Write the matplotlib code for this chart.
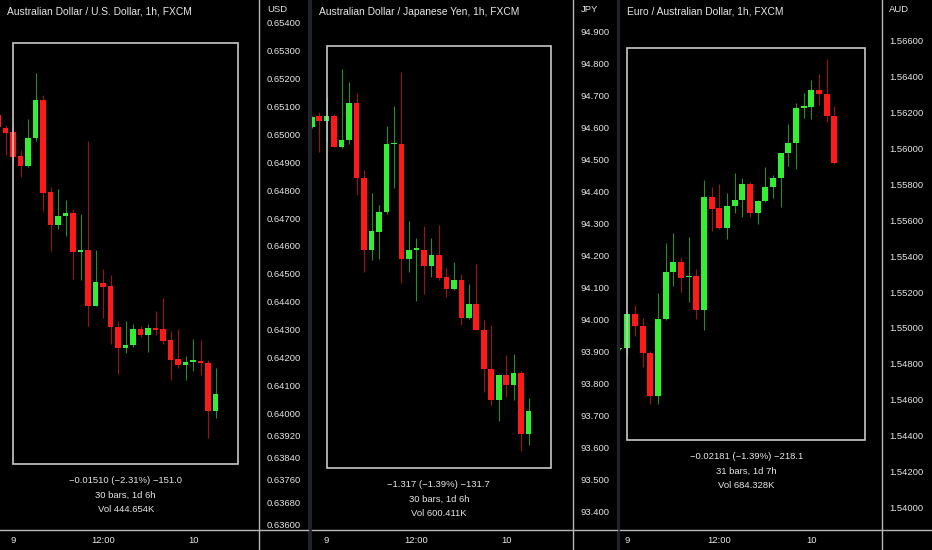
import numpy as np
import matplotlib
matplotlib.use('Agg')
import matplotlib.pyplot as plt
from matplotlib.lines import Line2D
from matplotlib.patches import Rectangle

plt.rcParams['font.family'] = ['Liberation Sans', 'DejaVu Sans']

# ---- data: hourly candles, open / high / low / close ----
audusd_open = [0.65068, 0.65024, 0.65007, 0.64922, 0.64885, 0.64987, 0.65122, 0.64793, 0.64676, 0.64706,
               0.64718, 0.64578, 0.64587, 0.64384, 0.64468, 0.64456, 0.64309, 0.64233, 0.64243, 0.64303,
               0.64281, 0.64306, 0.64300, 0.64261, 0.64193, 0.64171, 0.64185, 0.64188, 0.64180, 0.64006]
audusd_high = [0.65086, 0.65035, 0.65035, 0.64943, 0.65054, 0.65222, 0.65143, 0.64811, 0.64805, 0.64763,
               0.64733, 0.64715, 0.64975, 0.64587, 0.64516, 0.64494, 0.64329, 0.64329, 0.64321, 0.64312,
               0.64321, 0.64368, 0.64414, 0.64293, 0.64303, 0.64205, 0.64267, 0.64261, 0.64189, 0.64161]
audusd_low = [0.65021, 0.64925, 0.64895, 0.64847, 0.64883, 0.64975, 0.64727, 0.64580, 0.64659, 0.64635,
              0.64482, 0.64476, 0.64312, 0.64384, 0.64341, 0.64249, 0.64141, 0.64217, 0.64237, 0.64273,
              0.64221, 0.64279, 0.64249, 0.64117, 0.64161, 0.64117, 0.64150, 0.64138, 0.63910, 0.63982]
audusd_close = [0.65027, 0.65005, 0.64919, 0.64885, 0.64988, 0.65122, 0.64791, 0.64676, 0.64706, 0.64718,
                0.64578, 0.64587, 0.64384, 0.64470, 0.64452, 0.64309, 0.64233, 0.64243, 0.64303, 0.64281,
                0.64306, 0.64297, 0.64257, 0.64189, 0.64171, 0.64185, 0.64188, 0.64179, 0.64006, 0.64069]

audjpy_open = [94.602, 94.635, 94.620, 94.635, 94.540, 94.560, 94.677, 94.444, 94.217, 94.274,
               94.337, 94.548, 94.550, 94.189, 94.219, 94.219, 94.168, 94.201, 94.133, 94.095,
               94.123, 94.005, 94.048, 93.969, 93.847, 93.750, 93.826, 93.797, 93.833, 93.642]
audjpy_high = [94.636, 94.649, 94.694, 94.644, 94.784, 94.743, 94.709, 94.467, 94.396, 94.357,
               94.604, 94.667, 94.774, 94.307, 94.255, 94.293, 94.255, 94.295, 94.163, 94.180,
               94.144, 94.113, 94.173, 93.998, 93.984, 93.831, 93.889, 93.892, 93.840, 93.756]
audjpy_low = [94.600, 94.524, 94.555, 94.540, 94.538, 94.548, 94.389, 94.149, 94.188, 94.190,
              94.329, 94.413, 94.116, 94.149, 94.058, 94.081, 94.133, 94.125, 94.071, 94.094,
              93.982, 94.003, 93.969, 93.774, 93.735, 93.682, 93.758, 93.750, 93.590, 93.610]
audjpy_close = [94.633, 94.620, 94.635, 94.540, 94.560, 94.677, 94.444, 94.217, 94.276, 94.337,
                94.548, 94.550, 94.189, 94.219, 94.220, 94.168, 94.201, 94.130, 94.095, 94.123,
                94.005, 94.048, 93.969, 93.847, 93.750, 93.826, 93.797, 93.833, 93.642, 93.714]

euraud_open = [1.54882, 1.54888, 1.55079, 1.55012, 1.54860, 1.54619, 1.55049, 1.55309, 1.55370, 1.55283,
               1.55287, 1.55098, 1.55728, 1.55667, 1.55556, 1.55682, 1.55714, 1.55801, 1.55643, 1.55710,
               1.55784, 1.55834, 1.55973, 1.56033, 1.56227, 1.56233, 1.56326, 1.56302, 1.56183]
euraud_high = [1.54890, 1.55083, 1.55129, 1.55055, 1.54869, 1.55194, 1.55472, 1.55528, 1.55398, 1.55506,
               1.55328, 1.55825, 1.55784, 1.55803, 1.55751, 1.55862, 1.55834, 1.55816, 1.55714, 1.55895,
               1.55853, 1.55977, 1.56137, 1.56255, 1.56311, 1.56385, 1.56415, 1.56497, 1.56237]
euraud_low = [1.54878, 1.54851, 1.54953, 1.54782, 1.54578, 1.54573, 1.55042, 1.55231, 1.55198, 1.55142,
              1.55049, 1.54990, 1.55543, 1.55550, 1.55496, 1.55639, 1.55621, 1.55621, 1.55580, 1.55704,
              1.55727, 1.55673, 1.55903, 1.55884, 1.56172, 1.56163, 1.56242, 1.56150, 1.55914]
euraud_close = [1.54886, 1.55079, 1.55009, 1.54860, 1.54619, 1.55049, 1.55309, 1.55370, 1.55281, 1.55285,
                1.55098, 1.55728, 1.55663, 1.55556, 1.55682, 1.55714, 1.55801, 1.55643, 1.55710, 1.55784,
                1.55834, 1.55973, 1.56033, 1.56227, 1.56233, 1.56326, 1.56302, 1.56183, 1.55921]

titles = ['Australian Dollar / U.S. Dollar, 1h, FXCM',
          'Australian Dollar / Japanese Yen, 1h, FXCM',
          'Euro / Australian Dollar, 1h, FXCM']
currencies = ['USD', 'JPY', 'AUD']

audusd_ticks = [0.654, 0.653, 0.652, 0.651, 0.650, 0.649, 0.648, 0.647, 0.646, 0.645, 0.644,
                0.643, 0.642, 0.641, 0.640, 0.6392, 0.6384, 0.6376, 0.6368, 0.636]
audjpy_ticks = [94.9, 94.8, 94.7, 94.6, 94.5, 94.4, 94.3, 94.2, 94.1, 94.0,
                93.9, 93.8, 93.7, 93.6, 93.5, 93.4]
euraud_ticks = [1.566, 1.564, 1.562, 1.560, 1.558, 1.556, 1.554, 1.552, 1.550,
                1.548, 1.546, 1.544, 1.542, 1.540]
tick_fmt = ['{:.5f}', '{:.3f}', '{:.5f}']

time_pos = [1, 13, 25]
time_labels = ['9', '12:00', '10']

# measure boxes: start bar, end bar, top, bottom, stats
box_start = [1, 1, 1]
box_end = [31, 31, 32]
box_top = [0.65327, 94.854, 1.56558]
box_bottom = [0.63817, 93.537, 1.54377]
box_text = [['\u22120.01510 (\u22122.31%) \u2212151.0', '30 bars, 1d 6h', 'Vol 444.654K'],
            ['\u22121.317 (\u22121.39%) \u2212131.7', '30 bars, 1d 6h', 'Vol 600.411K'],
            ['\u22120.02181 (\u22121.39%) \u2212218.1', '31 bars, 1d 7h', 'Vol 684.328K']]

first_bar = [-1, -1, 0]

# ---- layout in pixels ----
W, H = 932, 550
BOTTOM = 529.5
panels = [dict(x0=0, xa=259.3, x1=308.3, xlim=(-0.756, 33.82), ylim=(0.635822, 0.654825)),
          dict(x0=311.7, xa=573.3, x1=616.7, xlim=(-1.0, 33.97), ylim=(93.3445, 94.999)),
          dict(x0=620, xa=881.7, x1=932, xlim=(0.05, 34.17), ylim=(1.538758, 1.568284))]

data = [(audusd_open, audusd_high, audusd_low, audusd_close),
        (audjpy_open, audjpy_high, audjpy_low, audjpy_close),
        (euraud_open, euraud_high, euraud_low, euraud_close)]
ticks = [audusd_ticks, audjpy_ticks, euraud_ticks]

UP, DOWN = '#33ee33', '#ff1a1a'
UP_WICK, DOWN_WICK = '#2a8a2a', '#9a1414'
LINE = '#b8b8b8'
TXT = '#e6e6e6'
FS = 6.8

fig = plt.figure(figsize=(W / 100, H / 100), dpi=100, facecolor='black')

for k, p in enumerate(panels):
    ax = fig.add_axes([p['x0'] / W, 1 - BOTTOM / H, (p['xa'] - p['x0']) / W, BOTTOM / H])
    ax.set_facecolor('black')
    for s in ax.spines.values():
        s.set_visible(False)
    ax.set_xlim(*p['xlim'])
    ax.set_ylim(*p['ylim'])
    o, h, l, c = [np.array(v) for v in data[k]]
    x = np.arange(first_bar[k], first_bar[k] + len(o))
    up = c >= o
    px = (p['ylim'][1] - p['ylim'][0]) / BOTTOM
    ax.vlines(x[up], l[up], h[up], color=UP_WICK, lw=0.8, zorder=2)
    ax.vlines(x[~up], l[~up], h[~up], color=DOWN_WICK, lw=0.8, zorder=2)
    body_h = np.maximum(np.abs(c - o), 1.5 * px)
    body_b = np.minimum(o, c)
    ax.bar(x, body_h, bottom=body_b, width=0.75,
           color=np.where(up, UP, DOWN), linewidth=0, zorder=3)

    ax.add_patch(Rectangle((box_start[k], box_bottom[k]), box_end[k] - box_start[k],
                           box_top[k] - box_bottom[k], fill=False, ec='#c8c8c8', lw=1.2, zorder=4))
    cx = (box_start[k] + box_end[k]) / 2
    for j, t in enumerate(box_text[k]):
        ax.annotate(t, (cx, box_bottom[k]), xytext=(0, -16.7 - 14.6 * j), textcoords='offset pixels',
                    ha='center', va='center', color=TXT, fontsize=FS)

    ax.yaxis.tick_right()
    ax.set_yticks(ticks[k])
    ax.set_yticklabels([tick_fmt[k].format(v) for v in ticks[k]])
    ax.tick_params(axis='y', length=0, pad=5.4, labelcolor=TXT, labelsize=FS)
    ax.set_xticks(time_pos)
    ax.set_xticklabels(time_labels)
    ax.tick_params(axis='x', length=0, pad=5, labelcolor=TXT, labelsize=FS)

    # pane frame lines
    fig.add_artist(Line2D([p['xa'] / W] * 2, [0, 1], color=LINE, lw=1.0))
    fig.add_artist(Line2D([p['x0'] / W, p['x1'] / W], [1 - BOTTOM / H] * 2, color=LINE, lw=1.0))
    fig.text((p['x0'] + 7) / W, 1 - 12 / H, titles[k], color=TXT, fontsize=7.4, va='center', ha='left')
    fig.text((p['xa'] + 7.5) / W, 1 - 10 / H, currencies[k], color=TXT, fontsize=FS, va='center', ha='left')

for sx in [308.3, 616.7]:
    fig.add_artist(Rectangle((sx / W, 0), 3.4 / W, 1, transform=fig.transFigure,
                             color='#20232b', lw=0))

fig.savefig('out.png', dpi=100, facecolor='black')
